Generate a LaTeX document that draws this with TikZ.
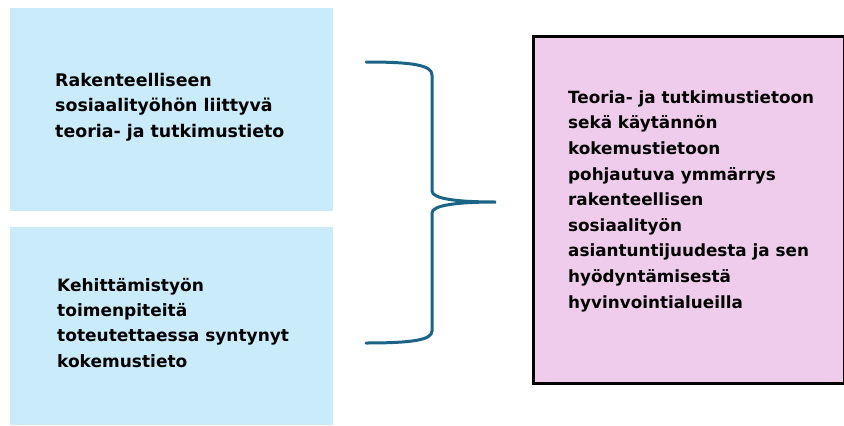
\documentclass[tikz,border=0pt]{standalone}
\usepackage{fontspec}
\setmainfont{DejaVu Sans}
\definecolor{boxblue}{HTML}{CAEBFA}
\definecolor{boxpink}{HTML}{F0CCEC}
\definecolor{bracecol}{HTML}{1B6487}
\tikzset{
  srcbox/.style={fill=boxblue, draw=none, inner sep=0, anchor=north west},
  resbox/.style={fill=boxpink, draw=black, line width=3pt, inner sep=0, anchor=north west},
  lefttext/.style={inner sep=0, anchor=base west, font=\bfseries\fontsize{17.4}{25.5}\selectfont},
  lefttextb/.style={inner sep=0, anchor=base west, font=\bfseries\fontsize{17.0}{25.4}\selectfont},
  righttext/.style={inner sep=0, anchor=base west, font=\bfseries\fontsize{16.8}{25.6}\selectfont},
  bracestyle/.style={draw=bracecol, line width=3pt, line cap=round}
}
\begin{document}
\begin{tikzpicture}[x=1pt,y=-1pt]
\useasboundingbox (0,0) rectangle (844,426);
\node[srcbox, minimum width=323pt, minimum height=203pt] (top) at (10,8) {};
\node[srcbox, minimum width=323pt, minimum height=198pt] (bot) at (10,227) {};
\node[resbox, minimum width=311pt, minimum height=347pt] (res) at (531.5,34.5) {};
\node[lefttext] (toptext) at (55,86) {\vtop{\hbox{Rakenteelliseen}\hbox{sosiaalityöhön liittyvä}\hbox{teoria- ja tutkimustieto}}};
\node[lefttextb] (bottext) at (57,291) {\vtop{\hbox{Kehittämistyön}\hbox{toimenpiteitä}\hbox{toteutettaessa syntynyt}\hbox{kokemustieto}}};
\node[righttext] (restext) at (568,103.3) {\vtop{\hbox{Teoria- ja tutkimustietoon}\hbox{sekä käytännön}\hbox{kokemustietoon}\hbox{pohjautuva ymmärrys}\hbox{rakenteellisen}\hbox{sosiaalityön}\hbox{asiantuntijuudesta ja sen}\hbox{hyödyntämisestä}\hbox{hyvinvointialueilla}}};
\coordinate (bA) at (366,62);
\coordinate (bTip) at (496,202);
\coordinate (bB) at (366,343);
\draw[bracestyle] (bA) .. controls (412,62) and (432,65) .. (432,75) -- (432,191)
  .. controls (432,199) and (458,202) .. (bTip)
  .. controls (458,202) and (432,205) .. (432,213) -- (432,331)
  .. controls (432,340) and (412,343) .. (bB);
\end{tikzpicture}
\end{document}
